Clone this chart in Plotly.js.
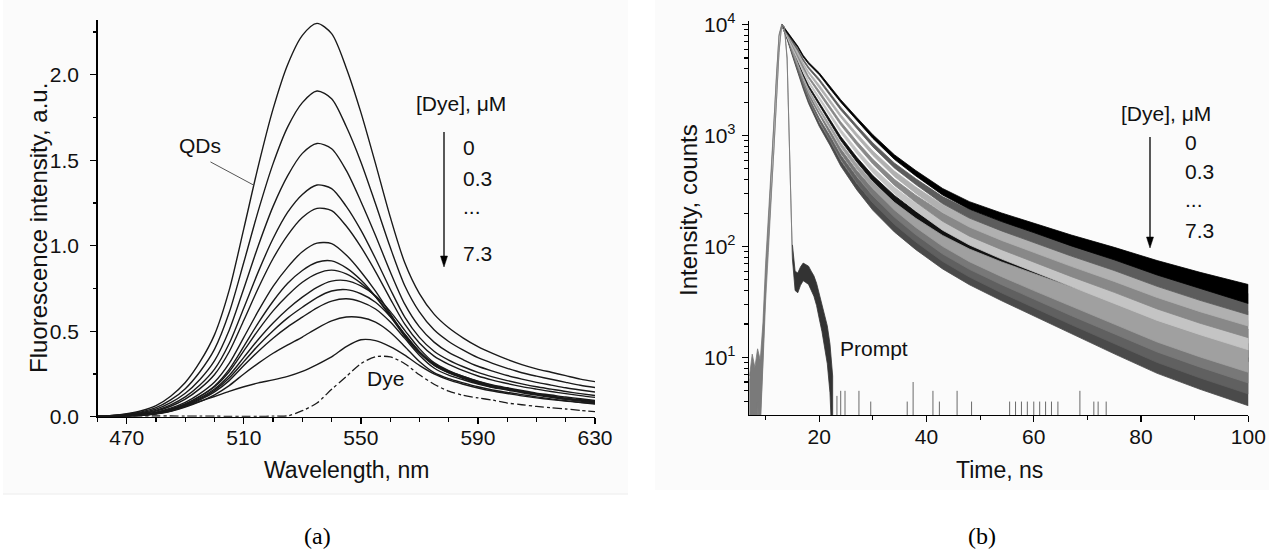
<!DOCTYPE html>
<html>
<head>
<meta charset="utf-8">
<script src="https://cdn.plot.ly/plotly-3.0.1.min.js"></script>
<style>html,body{margin:0;padding:0;background:#fff;}#chart{width:1269px;height:555px;}</style>
</head>
<body>
<div id="chart"></div>
<script>
// ---------- Panel (a): steady-state fluorescence spectra ----------
const wavelength = [460,465,470,475,480,485,490,495,500,505,510,515,520,525,530,535,540,545,550,555,560,565,570,575,580,585,590,595,600,605,610,615,620,625,630];
const spec01 = [0.003,0.008,0.018,0.035,0.065,0.12,0.20,0.32,0.48,0.74,1.10,1.47,1.80,2.06,2.23,2.30,2.24,2.04,1.78,1.48,1.17,0.90,0.72,0.60,0.52,0.46,0.41,0.37,0.335,0.305,0.28,0.26,0.24,0.22,0.205];
const spec02 = [0.003,0.007,0.015,0.028,0.053,0.098,0.164,0.263,0.395,0.609,0.903,1.208,1.48,1.695,1.837,1.905,1.86,1.697,1.49,1.245,0.992,0.766,0.613,0.508,0.44,0.389,0.345,0.312,0.283,0.257,0.237,0.219,0.201,0.184,0.171];
const spec03 = [0.002,0.0055,0.0126,0.0236,0.044,0.082,0.137,0.218,0.328,0.506,0.75,1.003,1.23,1.41,1.54,1.598,1.567,1.44,1.259,1.06,0.849,0.658,0.525,0.436,0.376,0.333,0.295,0.267,0.241,0.22,0.201,0.185,0.169,0.156,0.144];
const spec04 = [0.0017,0.0047,0.011,0.02,0.037,0.069,0.116,0.185,0.278,0.428,0.636,0.85,1.042,1.196,1.30,1.355,1.334,1.23,1.091,0.925,0.747,0.582,0.464,0.383,0.331,0.292,0.259,0.233,0.211,0.192,0.175,0.161,0.147,0.135,0.124];
const spec05 = [0.0015,0.004,0.0094,0.0177,0.033,0.061,0.103,0.164,0.247,0.38,0.564,0.754,0.925,1.062,1.165,1.218,1.205,1.115,0.993,0.849,0.691,0.541,0.431,0.354,0.306,0.269,0.238,0.214,0.194,0.176,0.161,0.147,0.135,0.123,0.113];
const spec06 = [0.0013,0.0034,0.0078,0.0146,0.027,0.05,0.084,0.135,0.203,0.312,0.464,0.62,0.762,0.875,0.965,1.015,1.012,0.945,0.848,0.734,0.604,0.476,0.379,0.31,0.266,0.235,0.208,0.186,0.169,0.153,0.138,0.127,0.115,0.105,0.095];
const spec07 = [0.0011,0.003,0.0069,0.0129,0.024,0.045,0.075,0.12,0.18,0.277,0.411,0.55,0.675,0.78,0.855,0.903,0.911,0.87,0.799,0.703,0.588,0.469,0.372,0.301,0.258,0.228,0.2,0.179,0.162,0.146,0.133,0.121,0.108,0.099,0.09];
const spec08 = [0.001,0.0027,0.0062,0.0117,0.022,0.041,0.073,0.118,0.175,0.263,0.385,0.508,0.619,0.71,0.786,0.837,0.857,0.835,0.781,0.702,0.597,0.482,0.381,0.307,0.262,0.23,0.202,0.18,0.163,0.147,0.132,0.119,0.107,0.096,0.086];
const spec09 = [0.001,0.0024,0.0054,0.0102,0.019,0.039,0.069,0.11,0.162,0.241,0.347,0.453,0.548,0.63,0.699,0.757,0.793,0.796,0.765,0.707,0.616,0.505,0.398,0.316,0.27,0.236,0.206,0.182,0.165,0.148,0.133,0.119,0.106,0.094,0.084];
const spec10 = [0.001,0.0022,0.005,0.0093,0.019,0.037,0.066,0.104,0.154,0.226,0.322,0.418,0.503,0.578,0.64,0.697,0.735,0.743,0.719,0.669,0.586,0.481,0.379,0.301,0.256,0.224,0.195,0.173,0.162,0.145,0.131,0.117,0.104,0.094,0.083];
const spec11 = [0.001,0.002,0.0045,0.0094,0.019,0.035,0.063,0.099,0.145,0.211,0.299,0.383,0.459,0.525,0.582,0.637,0.676,0.69,0.672,0.63,0.555,0.458,0.36,0.285,0.243,0.216,0.191,0.171,0.156,0.14,0.126,0.113,0.101,0.091,0.081];
const spec12 = [0.001,0.0015,0.0045,0.0086,0.016,0.031,0.056,0.088,0.128,0.182,0.25,0.313,0.371,0.42,0.466,0.517,0.56,0.583,0.58,0.553,0.494,0.411,0.323,0.258,0.223,0.198,0.175,0.156,0.142,0.129,0.116,0.104,0.093,0.083,0.074];
const spec13 = [0.001,0.002,0.005,0.01,0.018,0.033,0.06,0.09,0.118,0.148,0.175,0.198,0.215,0.236,0.265,0.305,0.35,0.41,0.45,0.445,0.41,0.36,0.3,0.25,0.215,0.19,0.168,0.15,0.136,0.122,0.11,0.1,0.091,0.084,0.077];
const dyeSpectrum = [0.004,0.004,0.004,0.004,0.004,0.004,0.003,0.003,0.003,0.002,0.002,0.002,0.003,0.005,0.035,0.08,0.16,0.235,0.31,0.35,0.35,0.31,0.245,0.19,0.15,0.125,0.11,0.097,0.08,0.07,0.06,0.052,0.045,0.037,0.03];
const qdSpectra = [spec01,spec02,spec03,spec04,spec05,spec06,spec07,spec08,spec09,spec10,spec11,spec12,spec13];

// ---------- Panel (b): fluorescence decays (counts) ----------
const riseTime = [7,8,9,9.5,10,10.5,11,11.5,12,12.5,13];
const riseCounts = [4,4,5,12,40,100,230,650,1900,5700,10000];
const decayTime = [13,14,15,16,17,18,20,22,24,27,30,34,38,43,48,54,60,67,75,83,91,100];
const decay0 = [10000,8590,7290,6300,5200,4500,3600,2700,2050,1410,980,641,458,312,235,184,148,114,87,65,50,38];
const decay1 = [10000,8450,7015,5900,4810,4080,3170,2350,1750,1190,824,538,385,262,197,153,122,93.5,70.8,52.4,40.3,30.9];
const decay2 = [10000,8318,6761,5546,4446,3707,2793,2046,1503,1007,692,453,322,220,165,127,101,76.7,57.5,42.5,32.7,25.2];
const decay3 = [10000,8185,6501,5200,4102,3357,2460,1778,1285,851,582,380,270,185,138,106,83.4,63.0,46.8,34.4,26.5,20.5];
const decay4 = [10000,8054,6252,4875,3793,3048,2168,1549,1099,719,489,320,227,155,116,88.3,68.7,51.6,38.0,27.9,21.6,16.6];
const decay5 = [10000,7925,6026,4571,3508,2767,1910,1349,942,607,411,269,190,130,97.3,73.5,56.8,42.4,30.9,22.6,17.5,13.6];
const decay6 = [10000,7816,5834,4335,3281,2553,1718,1202,826,527,356,232,164,113,83.9,63.0,48.4,35.9,26.0,19.0,14.7,11.4];
const decay7 = [10000,7709,5649,4111,3076,2350,1545,1069,726,458,308,201,142,97.5,72.4,54.1,41.3,30.4,21.9,16.0,12.4,9.6];
const decay8 = [10000,7603,5470,3899,2877,2168,1390,953,637,398,266,174,123,84.3,62.5,46.3,35.2,25.8,18.4,13.4,10.4,8.1];
const decay9 = [10000,7500,5300,3700,2700,2000,1250,850,560,346,230,150,106,73,54,40,30,21.9,15.5,11.2,8.7,6.8];
const promptTime = [7,7.5,8,8.5,9,9.5,10,10.5,11,11.5,12,12.5,13,13.5,14,14.5,15,15.5,16,16.5,17,17.5,18,18.5,19,19.5,20,20.5,21,21.5,22,22.5];
const promptCounts = [4,7,5,8,6,15,60,160,420,1200,3500,8000,9900,9500,5000,600,90,50,48,55,60,58,56,50,45,38,30,24,19,14,9,4];
const promptSpikeTime = [23.3,24.0,24.8,27.4,29.6,36.4,37.5,41.2,42.4,45.7,48.4,55.5,56.6,57.7,58.8,60.0,61.1,62.2,63.3,64.5,68.6,71.2,72.0,73.5];
const promptSpikeCounts = [4.5,5,5,5,4,4,6,5,4,5,4,4,4,4,4,4,4,4,4,4,5,4,4,4];

const yTickVals = [10,100,1000,10000];
const yTickText = ['10<sup>1</sup>','10<sup>2</sup>','10<sup>3</sup>','10<sup>4</sup>'];

// ---------- helpers ----------
const W = 1269, H = 555;
const px = x => x / W;
const py = y => 1 - y / H;
const FONT = 'Liberation Sans, Arial, Helvetica, sans-serif';

const traces = [];
qdSpectra.forEach(s => traces.push({
  x: wavelength, y: s, xaxis: 'x', yaxis: 'y', type: 'scatter', mode: 'lines',
  line: {color: '#1a1a1a', width: 1.4, shape: 'spline', smoothing: 0.8},
  hoverinfo: 'skip', showlegend: false
}));
traces.push({
  x: wavelength, y: dyeSpectrum, xaxis: 'x', yaxis: 'y', type: 'scatter', mode: 'lines',
  line: {color: '#1a1a1a', width: 1.3, dash: 'dashdot', shape: 'spline', smoothing: 0.8},
  hoverinfo: 'skip', showlegend: false
});

// Poisson counting-noise band (±k·√N) around each decay
const K = 1.2;
function band(t, v, color, k) {
  const kk = k || K;
  const up = v.map(n => n + kk * Math.sqrt(n));
  const lo = v.map(n => Math.max(n - kk * Math.sqrt(n), 1));
  return {
    x: t.concat(t.slice().reverse()),
    y: up.concat(lo.slice().reverse()),
    xaxis: 'x2', yaxis: 'y2', type: 'scatter', mode: 'lines',
    fill: 'toself', fillcolor: color, line: {color: color, width: 0.8},
    hoverinfo: 'skip', showlegend: false
  };
}
const decays = [
  [decay9,'#4a4a4a'],[decay8,'#606060'],[decay7,'#787878'],[decay5,'#111111'],
  [decay6,'#a0a0a0'],[decay4,'#c4c4c4'],[decay3,'#888888'],[decay2,'#b0b0b0'],
  [decay1,'#5c5c5c'],[decay0,'#000000']
];
decays.forEach(([d, c]) => traces.push(band(decayTime, d, c)));
// common rising edge of the decays
traces.push(band(riseTime, riseCounts, '#808080'));
// prompt: main pulse (grey) and after-pulse (dark)
const split = promptTime.indexOf(15);
traces.push(band(promptTime.slice(0, split + 1), promptCounts.slice(0, split + 1), '#7a7a7a', 1.4));
traces.push(band(promptTime.slice(split), promptCounts.slice(split), '#333333', 1.4));

// isolated single-count channels of the prompt
const sx = [], sy = [];
promptSpikeTime.forEach((t, i) => { sx.push(t, t, null); sy.push(1, promptSpikeCounts[i], null); });
traces.push({x: sx, y: sy, xaxis: 'x2', yaxis: 'y2', type: 'scatter', mode: 'lines',
  line: {color: '#6a6a6a', width: 1}, hoverinfo: 'skip', showlegend: false});

const minorLog = [];
for (let e = 0; e < 4; e++) for (let d = 2; d <= 9; d++) minorLog.push(d * Math.pow(10, e));

const axisCommon = {
  showline: true, linecolor: '#000', linewidth: 1.3, mirror: false,
  ticks: 'outside', ticklen: 6, tickwidth: 1.3, tickcolor: '#000',
  showgrid: false, zeroline: false,
  tickfont: {family: FONT, size: 21, color: '#111'}
};

const txt = (text, x, y, xanchor, size, angle) => ({
  text: text, x: px(x), y: py(y), xref: 'paper', yref: 'paper',
  xanchor: xanchor || 'center', yanchor: 'middle', showarrow: false,
  textangle: angle || 0,
  font: {family: FONT, size: size || 21, color: '#111'}
});
// downward arrow drawn as a shaft and a filled head (paper coordinates)
const arrowShapes = (x, y0, y1) => [
  {type: 'line', xref: 'paper', yref: 'paper', x0: px(x), x1: px(x), y0: py(y0), y1: py(y1 - 8),
   line: {color: '#000', width: 1.3}},
  {type: 'path', xref: 'paper', yref: 'paper',
   path: `M ${px(x - 3.5)} ${py(y1 - 11)} L ${px(x + 3.5)} ${py(y1 - 11)} L ${px(x)} ${py(y1)} Z`,
   fillcolor: '#000', line: {color: '#000', width: 0.5}}
];

const layout = {
  width: W, height: H,
  margin: {l: 0, r: 0, t: 0, b: 0},
  paper_bgcolor: '#ffffff', plot_bgcolor: 'rgba(0,0,0,0)',
  showlegend: false,
  font: {family: FONT, color: '#111'},
  xaxis: Object.assign({}, axisCommon, {
    domain: [px(97.5), px(595)], range: [460, 630], anchor: 'y',
    tickmode: 'linear', tick0: 470, dtick: 40, ticklabelstandoff: -4,
    minor: {ticks: 'outside', ticklen: 3.5, tickwidth: 1.2, tickcolor: '#000', tick0: 460, dtick: 10}
  }),
  yaxis: Object.assign({}, axisCommon, {
    domain: [py(416.7), py(20)], range: [0, 2.32], anchor: 'x',
    tickmode: 'linear', tick0: 0, dtick: 0.5, tickformat: '.1f',
    minor: {ticks: 'outside', ticklen: 3.5, tickwidth: 1.2, tickcolor: '#000', tick0: 0, dtick: 0.25},
    ticklabelstandoff: 7
  }),
  xaxis2: Object.assign({}, axisCommon, {
    domain: [px(749), px(1248.3)], range: [6.9, 100], anchor: 'y2',
    tickmode: 'linear', tick0: 0, dtick: 20, ticklabelstandoff: -4,
    minor: {ticks: 'outside', ticklen: 3.5, tickwidth: 1.2, tickcolor: '#000', tick0: 0, dtick: 10}
  }),
  yaxis2: Object.assign({}, axisCommon, {
    type: 'log', domain: [py(415), py(20.7)], range: [0.481, 4.035], anchor: 'x2',
    tickmode: 'array', tickvals: yTickVals, ticktext: yTickText,
    minor: {ticks: 'outside', ticklen: 3.5, tickwidth: 1.1, tickcolor: '#000', tickmode: 'array', tickvals: minorLog},
    ticklabelstandoff: 2
  }),
  shapes: [
    {type: 'rect', xref: 'paper', yref: 'paper', x0: px(3), x1: px(628), y0: py(494), y1: py(0),
     fillcolor: '#fbfbfb', line: {width: 0}, layer: 'below'},
    {type: 'line', xref: 'paper', yref: 'paper', x0: px(3), x1: px(628), y0: py(494), y1: py(494),
     line: {color: '#ececec', width: 1}, layer: 'below'},
    {type: 'rect', xref: 'paper', yref: 'paper', x0: px(655), x1: px(1269), y0: py(490), y1: py(0),
     fillcolor: '#fbfbfb', line: {width: 0}, layer: 'below'},
    // leader line from the "QDs" label to the top spectrum
    {type: 'line', xref: 'x', yref: 'y', x0: 498.6, y0: 1.49, x1: 513.3, y1: 1.355,
     line: {color: '#555', width: 1}}
  ].concat(arrowShapes(444, 132, 267), arrowShapes(1150, 137, 248)),
  annotations: [
    // axis titles
    txt('Wavelength, nm', 346, 470, 'center', 23),
    txt('Fluorescence intensity, a.u.', 38, 228, 'center', 24, -90),
    txt('Time, ns', 999, 470, 'center', 23),
    txt('Intensity, counts', 688, 210, 'center', 24, -90),
    // panel a texts
    txt('QDs', 200, 145),
    txt('[Dye], μM', 461, 103),
    txt('0', 461, 148, 'left'),
    txt('0.3', 461, 178, 'left'),
    txt('...', 461, 206, 'left'),
    txt('7.3', 461, 253, 'left'),
    txt('Dye', 385, 378),
    // panel b texts
    txt('[Dye], μM', 1166, 113),
    txt('0', 1183, 142, 'left'),
    txt('0.3', 1183, 172, 'left'),
    txt('...', 1183, 199, 'left'),
    txt('7.3', 1183, 230, 'left'),
    txt('Prompt', 874, 348),
    {text: '(a)', x: px(318), y: py(536), xref: 'paper', yref: 'paper', showarrow: false,
     xanchor: 'center', yanchor: 'middle', font: {family: 'Liberation Serif, Times New Roman, serif', size: 24, color: '#000'}},
    {text: '(b)', x: px(982), y: py(536), xref: 'paper', yref: 'paper', showarrow: false,
     xanchor: 'center', yanchor: 'middle', font: {family: 'Liberation Serif, Times New Roman, serif', size: 24, color: '#000'}}
  ]
};

Plotly.newPlot('chart', traces, layout, {staticPlot: true, displayModeBar: false});
</script>
</body>
</html>
